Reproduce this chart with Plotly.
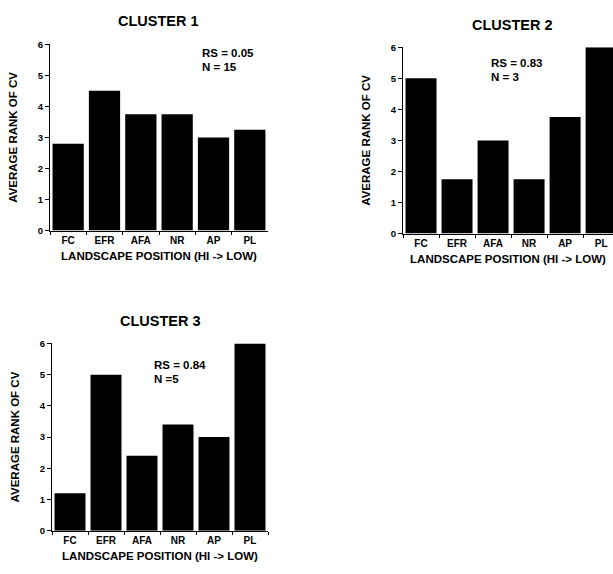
import plotly.graph_objects as go

W, H = 613, 574

categories = ["FC", "EFR", "AFA", "NR", "AP", "PL"]
cluster1 = [2.8, 4.5, 3.75, 3.75, 3.0, 3.25]
cluster2 = [5.0, 1.75, 3.0, 1.75, 3.75, 6.0]
cluster3 = [1.2, 5.0, 2.4, 3.4, 3.0, 6.0]
titles = ["CLUSTER 1", "CLUSTER 2", "CLUSTER 3"]
stats = [("RS = 0.05", "N = 15"), ("RS = 0.83", "N = 3"), ("RS = 0.84", "N =5")]
y_ticks = [0, 1, 2, 3, 4, 5, 6]
x_title = "LANDSCAPE POSITION (HI -> LOW)"
y_title = "AVERAGE RANK OF CV"

FONT = "Liberation Sans, Arial, sans-serif"

def px_x(x):
    return x / W

def px_y(y):
    return 1 - y / H

# panel geometry in pixels: (x_left, x_right, y_top, y_bottom, x_range_max)
panels = [
    (50, 268, 39, 229, 5.5),
    (403, 613, 42, 232, 5.33),
    (52, 268, 344, 535, 5.5),
]
series = [cluster1, cluster2, cluster3]
title_pos = [(158, 15), (512, 19), (160, 321)]
stat_pos = [(200, 48, 62), (489, 58, 72), (152, 366, 380)]

fig = go.Figure()
layout = dict(
    width=W, height=H,
    margin=dict(l=0, r=0, t=0, b=0),
    paper_bgcolor="white", plot_bgcolor="white",
    showlegend=False,
    font=dict(family=FONT, color="black"),
    bargap=0.14,
    annotations=[],
)

for i, (vals, (xl, xr, yt, yb, xmax)) in enumerate(zip(series, panels)):
    n = "" if i == 0 else str(i + 1)
    fig.add_trace(go.Bar(
        x=categories, y=vals,
        marker=dict(color="black", line=dict(width=0)),
        xaxis="x" + n, yaxis="y" + n,
    ))
    layout["xaxis" + n] = dict(
        domain=[px_x(xl), px_x(xr)],
        anchor="y" + n,
        range=[-0.5, xmax],
        showline=True, linecolor="black", linewidth=1,
        ticks="outside", ticklen=3, tickcolor="black", tickson="boundaries",
        showgrid=False, zeroline=False,
        tickfont=dict(size=10, family=FONT, weight="bold"),
        title=dict(text=x_title, font=dict(size=11.5, family=FONT, weight="bold"), standoff=7),
        fixedrange=True,
    )
    layout["yaxis" + n] = dict(
        domain=[px_y(yb), px_y(yt)],
        anchor="x" + n,
        range=[0, 6],
        tickvals=y_ticks,
        showline=True, linecolor="black", linewidth=1,
        ticks="outside", ticklen=4, tickcolor="black",
        showgrid=False, zeroline=False,
        tickfont=dict(size=9.5, family=FONT, weight="bold"),
        title=dict(text=y_title, font=dict(size=11.5, family=FONT, weight="bold"), standoff=17),
        fixedrange=True,
    )
    tx, ty = title_pos[i]
    layout["annotations"].append(dict(
        text=titles[i], x=px_x(tx), y=px_y(ty), xref="paper", yref="paper",
        xanchor="center", yanchor="middle", showarrow=False,
        font=dict(size=14.5, family=FONT, weight="bold"),
    ))
    sx, sy1, sy2 = stat_pos[i]
    for txt, sy in zip(stats[i], (sy1, sy2)):
        layout["annotations"].append(dict(
            text=txt, x=px_x(sx), y=px_y(sy), xref="paper", yref="paper",
            xanchor="left", yanchor="middle", showarrow=False,
            font=dict(size=11.5, family=FONT, weight="bold"),
        ))

fig.update_layout(**layout)
fig.write_html("out.html")
